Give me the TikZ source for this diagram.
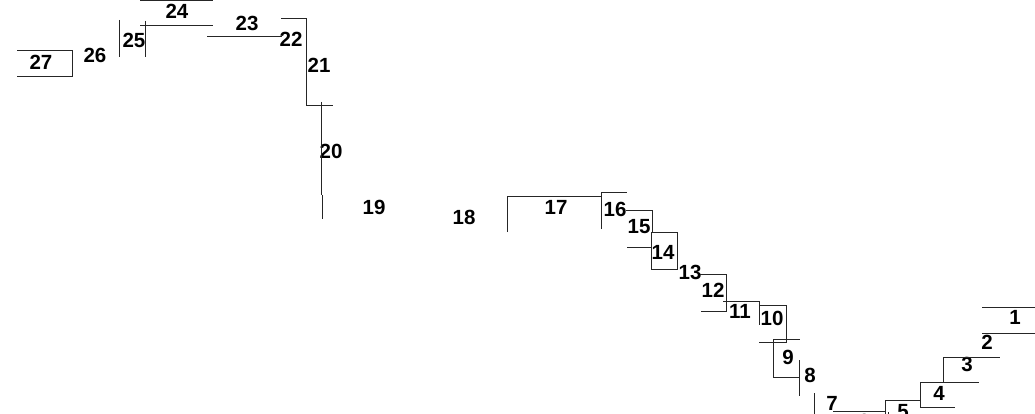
\documentclass[tikz,border=0pt]{standalone}
\usepackage{fontspec}
\setmainfont{Liberation Sans}
\usepackage{tikz}
\tikzset{
  numero/.style={font=\fontsize{20.5}{20.5}\selectfont\bfseries,inner sep=0pt},
  lindero/.style={line width=1pt,draw=black!85}
}

\begin{document}
\begin{tikzpicture}[
  x=1pt,y=-1pt,
  every node/.style={outer sep=0pt}
]
\useasboundingbox (0,0) rectangle (1035,414);

% 1. Extremo izquierdo: lotes 27 a 22
\node[numero] (lote27) at (41,62) {27};
\node[numero] (lote26) at (95,55) {26};
\node[numero] (lote25) at (134,40) {25};
\node[numero] (lote24) at (177,11) {24};
\node[numero] (lote23) at (247,23) {23};
\node[numero] (lote22) at (291,39) {22};

\draw[lindero] (17,51) -- (72,51) -- (72,77) -- (17,77);
\draw[lindero] (119,20) -- (119,57);
\draw[lindero] (145,21) -- (145,57);
\draw[lindero] (140,26) -- (213,26);
\draw[lindero] (140,1) -- (213,1);
\draw[lindero] (207,37) -- (282,37);

% 2. Tramo vertical: lotes 21 a 18
\node[numero] (lote21) at (319,65) {21};
\node[numero] (lote20) at (331,151) {20};
\node[numero] (lote19) at (374,207) {19};
\node[numero] (lote18) at (464,217) {18};

\draw[lindero] (281,19) -- (306,19) -- (306,106) -- (333,106);
\draw[lindero] (321,102) -- (321,195);
\draw[lindero] (322,195) -- (322,219);

% 3. Escalera central: lotes 17 a 8
\node[numero] (lote17) at (556,207) {17};
\node[numero] (lote16) at (615,209) {16};
\node[numero] (lote15) at (639,227) {15};
\node[numero] (lote14) at (663,252) {14};
\node[numero] (lote13) at (690,272) {13};
\node[numero] (lote12) at (713,290) {12};
\node[numero] (lote11) at (740,311) {11};
\node[numero] (lote10) at (772,318) {10};
\node[numero] (lote9) at (788,357) {9};
\node[numero] (lote8) at (810,375) {8};

\draw[lindero] (507,232) -- (507,196) -- (601,196);
\draw[lindero] (601,229) -- (601,192) -- (627,192);
\draw[lindero] (626,210) -- (652,210) -- (652,232);
\draw[lindero] (651,232) rectangle (677,269);
\draw[lindero] (627,247) -- (651,247);
\draw[lindero] (700,274) -- (726,274) -- (726,311) -- (701,311);
\draw[lindero] (723,301) -- (759,301) -- (759,325);
\draw[lindero] (759,305) -- (786,305) -- (786,342) -- (759,342);
\draw[lindero] (773,339) -- (800,339);
\draw[lindero] (773,339) -- (773,377) -- (799,377);
\draw[lindero] (799,360) -- (799,396);

% 4. Extremo derecho: lotes 7 a 1
\node[numero] (lote7) at (832,403) {7};
\node[numero] (lote6) at (864,421) {6};
\node[numero] (lote5) at (903,412) {5};
\node[numero] (lote4) at (939,393) {4};
\node[numero] (lote3) at (967,364) {3};
\node[numero] (lote2) at (987,342) {2};
\node[numero] (lote1) at (1015,317) {1};

\draw[lindero] (814,393) -- (814,414);
\draw[lindero] (833,411) -- (885,411);
\draw[lindero] (885,414) -- (885,400) -- (920,400);
\draw[lindero] (888,412) -- (888,414);
\draw[lindero] (920,382) -- (920,407) -- (955,407);
\draw[lindero] (920,382) -- (979,382);
\draw[lindero] (943,382) -- (943,357) -- (1000,357);
\draw[lindero] (982,333) -- (1035,333);
\draw[lindero] (982,307) -- (1035,307);

\end{tikzpicture}
\end{document}
